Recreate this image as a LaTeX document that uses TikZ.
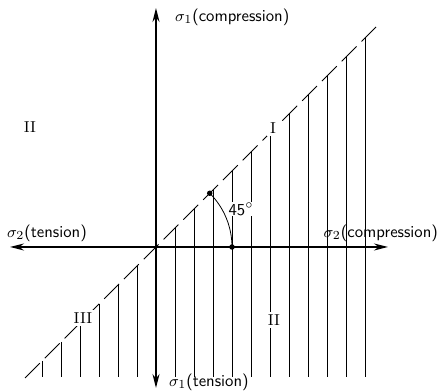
\documentclass[tikz,border=0pt]{standalone}
\usepackage{amsmath}
\usepackage{tikz}
\usetikzlibrary{arrows.meta}
\tikzset{
  axis/.style    = {thick, {Stealth[length=2.8mm,width=1.4mm]}-{Stealth[length=2.8mm,width=1.4mm]}},
  hatch/.style   = {line width=0.45pt},
  bound/.style   = {line width=0.5pt, dash pattern=on 4.2mm off 1.4mm},
  axlabel/.style = {font=\sffamily\fontsize{9.5}{11}\selectfont, inner sep=1pt},
  region/.style  = {font=\small, fill=white, inner sep=1.5pt},
  dot/.style     = {circle, fill, inner sep=0pt, minimum size=1.1mm},
}

\begin{document}
\begin{tikzpicture}[x=0.02cm, y=0.02cm]
  \useasboundingbox (-156,-144) rectangle (285,247);

  \coordinate (O)  at (0,0);
  \coordinate (xl) at (-146,0);
  \coordinate (xr) at (232,0);
  \coordinate (yt) at (0,239);
  \coordinate (yb) at (0,-141);
  \coordinate (dl) at (-131,-131);
  \coordinate (du) at (220,220);
  \coordinate (p)  at (45:76);
  \coordinate (q)  at (76,0);

  % hatching below the 45 degree line
  \foreach \k in {-6,...,-1,1,2,...,11}
    \draw[hatch] (19*\k,19*\k) -- (19*\k,-130);

  \draw[bound] (dl) -- (du);
  \draw[axis] (xl) -- (xr);
  \draw[axis] (yb) -- (yt);

  \node[axlabel, fill=white, inner sep=0.3pt] (ang) at (85,38) {45$^\circ$};
  \draw[hatch] (p) arc[start angle=45, end angle=0, radius=76];
  \node[dot] (pd) at (p) {};
  \node[dot] (qd) at (q) {};

  \node[axlabel, anchor=west] (s1c) at (17,230) {$\sigma_1$(compression)};
  \node[axlabel, anchor=west] (s1t) at (11,-135) {$\sigma_1$(tension)};
  \node[axlabel] (s2t) at (-109,14) {$\sigma_2$(tension)};
  \node[axlabel, anchor=east] (s2c) at (284,14) {$\sigma_2$(compression)};

  \node[region] (r1)  at (117,119) {I};
  \node[region] (r2a) at (-126,120) {II};
  \node[region] (r2b) at (118,-73) {II};
  \node[region] (r3)  at (-73,-71) {III};

\end{tikzpicture}
\end{document}
